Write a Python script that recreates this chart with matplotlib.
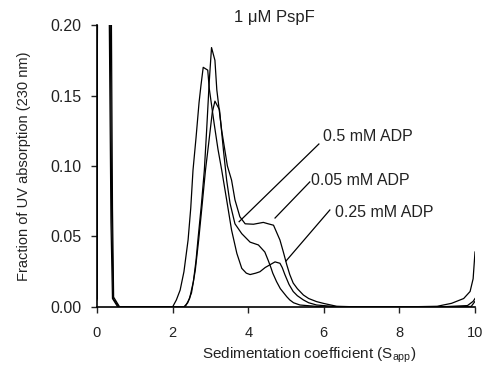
import matplotlib
matplotlib.use("Agg")
import matplotlib.pyplot as plt

plt.rcParams['font.family'] = ['Liberation Sans', 'DejaVu Sans']
plt.rcParams['mathtext.fontset'] = 'custom'
plt.rcParams['mathtext.rm'] = 'Liberation Sans'

# Sedimentation profiles (x: S_app, y: fraction of UV absorption)
x_025 = [0.0, 0.02, 0.28, 0.37, 0.41, 0.55, 1.0, 1.5, 2.0, 2.1, 2.2, 2.3, 2.41, 2.48, 2.54, 2.62, 2.7,
         2.75, 2.81, 2.93, 2.97, 3.1, 3.2, 3.3, 3.43, 3.56, 3.70, 3.83, 3.95, 4.05, 4.2, 4.31, 4.45,
         4.58, 4.71, 4.84, 4.9, 4.97, 5.08, 5.19, 5.3, 5.46, 5.6, 5.81, 6.3, 7.0, 8.0, 9.0, 9.8, 9.95, 10.0]
y_025 = [0.006, 0.35, 0.35, 0.06, 0.006, 0.0, 0.0, 0.0, 0.0, 0.005, 0.012, 0.025, 0.0475, 0.07, 0.097, 0.12, 0.145,
         0.157, 0.170, 0.168, 0.155, 0.130, 0.112, 0.097, 0.076, 0.0546, 0.038, 0.0274, 0.024, 0.023, 0.024, 0.025, 0.028,
         0.030, 0.032, 0.031, 0.028, 0.023, 0.016, 0.011, 0.008, 0.005, 0.003, 0.0014, 0.0003, 0.0, 0.0, 0.0, 0.001, 0.004, 0.006]

x_005 = [0.0, 0.02, 0.35, 0.41, 0.44, 0.60, 1.0, 1.5, 2.0, 2.3, 2.35, 2.45, 2.55, 2.62, 2.67, 2.76, 2.84, 2.9,
         2.97, 3.03, 3.12, 3.17, 3.3, 3.45, 3.56, 3.65, 3.78, 3.92, 4.14, 4.40, 4.53, 4.67, 4.84, 4.93, 5.02,
         5.1, 5.19, 5.3, 5.46, 5.6, 5.81, 6.0, 6.34, 7.0, 8.0, 9.0, 9.38, 9.7, 9.87, 9.95, 10.0]
y_005 = [0.005, 0.35, 0.35, 0.07, 0.007, 0.0, 0.0, 0.0, 0.0, 0.0, 0.001, 0.006, 0.018, 0.033, 0.0475, 0.072, 0.097, 0.125,
         0.160, 0.184, 0.175, 0.154, 0.125, 0.100, 0.090, 0.076, 0.064, 0.059, 0.0587, 0.060, 0.059, 0.058, 0.0475, 0.039, 0.030,
         0.023, 0.017, 0.013, 0.0085, 0.006, 0.0038, 0.0025, 0.0005, 0.0, 0.0, 0.0005, 0.0026, 0.006, 0.011, 0.020, 0.039]

x_05 = [0.0, 0.02, 0.31, 0.39, 0.43, 0.58, 1.0, 1.5, 2.0, 2.3, 2.4, 2.5, 2.6, 2.69, 2.78, 2.87, 2.95, 3.05, 3.12,
        3.24, 3.35, 3.43, 3.52, 3.65, 3.83, 4.05, 4.27, 4.44, 4.53, 4.6, 4.65, 4.75, 4.85, 5.02, 5.1, 5.2, 5.37, 6.0,
        7.0, 8.0, 9.0, 9.9, 10.0]
y_05 = [0.006, 0.35, 0.35, 0.065, 0.006, 0.0, 0.0, 0.0, 0.0, 0.0, 0.003, 0.01, 0.026, 0.0475, 0.072, 0.097, 0.115, 0.138, 0.146,
        0.140, 0.110, 0.090, 0.0735, 0.059, 0.052, 0.046, 0.044, 0.039, 0.033, 0.028, 0.024, 0.018, 0.013, 0.0073, 0.005, 0.003, 0.0014, 0.0,
        0.0, 0.0, 0.0, 0.0004, 0.004]

labels = ["0.5 mM ADP", "0.05 mM ADP", "0.25 mM ADP"]
label_xy = [(5.98, 0.1206), (5.66, 0.090), (6.30, 0.0667)]
leader_start = [(5.87, 0.1156), (5.63, 0.0887), (6.16, 0.0688)]
leader_end = [(3.76, 0.0605), (4.71, 0.0631), (5.0, 0.0326)]

x_ticks = [0, 2, 4, 6, 8, 10]
y_ticks = [0.00, 0.05, 0.10, 0.15, 0.20]

fig = plt.figure(figsize=(4.82, 3.68), dpi=100)
ax = fig.add_axes([0.2012, 0.1658, 0.7843, 0.7662])

for xs, ys in [(x_025, y_025), (x_005, y_005), (x_05, y_05)]:
    ax.plot(xs, ys, color='black', lw=0.9)

for lab, (tx, ty), (sx, sy), (ex, ey) in zip(labels, label_xy, leader_start, leader_end):
    ax.text(tx, ty, lab, fontsize=11.5, ha='left', va='center', color='#222222')
    ax.plot([sx, ex], [sy, ey], color='black', lw=0.9)

ax.set_xlim(0, 10)
ax.set_ylim(0, 0.2)
ax.set_xticks(x_ticks)
ax.set_xticklabels([str(v) for v in x_ticks])
ax.set_yticks(y_ticks)
ax.set_yticklabels([f"{v:.2f}" for v in y_ticks])
ax.spines['top'].set_visible(False)
ax.spines['right'].set_visible(False)
for s in ['left', 'bottom']:
    ax.spines[s].set_linewidth(1.2)
ax.tick_params(direction='out', length=4, width=1.0, colors='#222222')
ax.tick_params(axis='x', pad=10, labelsize=10.5)
ax.tick_params(axis='y', pad=7, labelsize=11.5)

ax.set_xlabel(r"Sedimentation coefficient (S$_{\rm app}$)", fontsize=11, color='#222222')
ax.xaxis.set_label_coords(0.562, -0.138)
ax.set_ylabel("Fraction of UV absorption (230 nm)", fontsize=10.5, color='#222222', labelpad=14)
ax.text(4.7, 0.205, "1 μM PspF", fontsize=12, ha='center', va='center', color='#222222')

fig.savefig("out.png", dpi=100)
